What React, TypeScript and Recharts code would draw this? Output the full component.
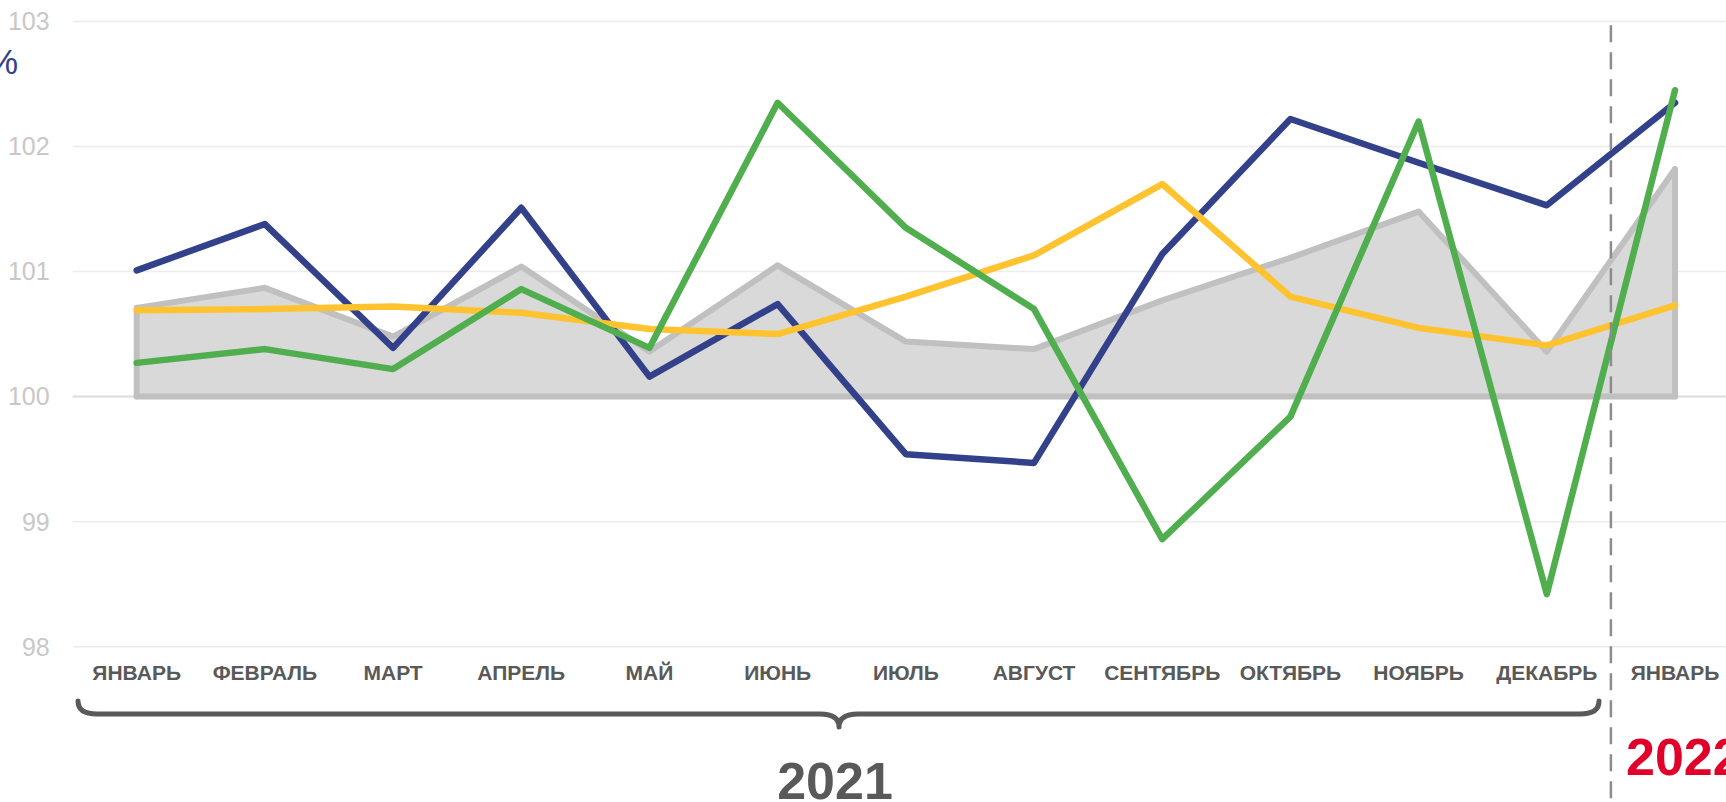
import React from 'react';
import {
  ComposedChart,
  Line,
  Area,
  XAxis,
  YAxis,
  CartesianGrid,
  ReferenceLine,
} from 'recharts';

const MONTH_KEYS = [
  '2021-01', '2021-02', '2021-03', '2021-04', '2021-05', '2021-06',
  '2021-07', '2021-08', '2021-09', '2021-10', '2021-11', '2021-12', '2022-01',
];
const MONTH_LABELS = [
  'ЯНВАРЬ', 'ФЕВРАЛЬ', 'МАРТ', 'АПРЕЛЬ', 'МАЙ', 'ИЮНЬ',
  'ИЮЛЬ', 'АВГУСТ', 'СЕНТЯБРЬ', 'ОКТЯБРЬ', 'НОЯБРЬ', 'ДЕКАБРЬ', 'ЯНВАРЬ',
];
const BLUE = [101.01, 101.38, 100.39, 101.51, 100.16, 100.74, 99.54, 99.47, 101.14, 102.22, 101.87, 101.53, 102.35];
const YELLOW = [100.69, 100.70, 100.72, 100.67, 100.54, 100.50, 100.80, 101.13, 101.70, 100.80, 100.55, 100.41, 100.73];
const GREEN = [100.27, 100.38, 100.22, 100.86, 100.39, 102.35, 101.35, 100.70, 98.86, 99.84, 102.20, 98.42, 102.45];
const GRAY = [100.71, 100.87, 100.48, 101.04, 100.36, 101.05, 100.44, 100.38, 100.77, 101.11, 101.48, 100.36, 101.82];
const Y_TICKS = [98, 99, 100, 101, 102, 103];
const BASE = 100;
const YEAR_DIVIDER = 11.5;
const YEAR_2021 = '2021';
const YEAR_2022 = '2022';
const UNIT = '%';

const data = MONTH_KEYS.map((key, i) => ({
  key,
  idx: i,
  blue: BLUE[i],
  yellow: YELLOW[i],
  green: GREEN[i],
  gray: GRAY[i],
}));

const labelFor = (key: string) => MONTH_LABELS[MONTH_KEYS.indexOf(key)] ?? key;

const FIRST = MONTH_KEYS[0];
const LAST = MONTH_KEYS[MONTH_KEYS.length - 1];

export default function App() {
  const outline = { stroke: '#c0c0c0', strokeWidth: 6, strokeLinecap: 'round' as const };
  return (
    <div
      style={{
        position: 'absolute',
        left: 0,
        top: 0,
        width: 1726,
        height: 802,
        overflow: 'hidden',
        background: '#ffffff',
        fontFamily: '"Liberation Sans", Arial, Helvetica, sans-serif',
      }}
    >
      <ComposedChart
        width={1800}
        height={802}
        data={data}
        margin={{ top: 21.5, right: 0, bottom: 0, left: 0 }}
      >
        <CartesianGrid vertical={false} stroke="#ececec" strokeWidth={1.5} zIndex={-100} />
        <XAxis
          xAxisId="cat"
          dataKey="key"
          type="category"
          scale="point"
          padding={{ left: 64, right: 125 }}
          height={155.3}
          interval={0}
          tickFormatter={labelFor}
          axisLine={false}
          tickLine={false}
          tickSize={0}
          tickMargin={18.4}
          tick={{ fontSize: 21, fontWeight: 700, fill: '#595959' }}
        />
        <XAxis
          xAxisId="num"
          dataKey="idx"
          type="number"
          domain={[0, MONTH_KEYS.length - 1]}
          padding={{ left: 64, right: 125 }}
          hide
        />
        <YAxis
          domain={[98, 103]}
          ticks={Y_TICKS}
          width={72.7}
          axisLine={false}
          tickLine={false}
          tickSize={0}
          tickMargin={23}
          tick={{ fontSize: 25, fill: '#c8c8c8' }}
        />
        <ReferenceLine y={BASE} xAxisId="cat" stroke="#dddddd" strokeWidth={2} zIndex={-50} />
        <Area
          xAxisId="cat"
          type="linear"
          dataKey="gray"
          baseValue={BASE}
          fill="#d9d9d9"
          fillOpacity={1}
          stroke="#c0c0c0"
          strokeWidth={6}
          strokeLinejoin="round"
          isAnimationActive={false}
          dot={false}
          activeDot={false}
        />
        <ReferenceLine
          xAxisId="cat"
          segment={[{ x: FIRST, y: BASE }, { x: LAST, y: BASE }]}
          {...outline}
          zIndex={150}
        />
        <ReferenceLine
          xAxisId="cat"
          segment={[{ x: FIRST, y: BASE }, { x: FIRST, y: GRAY[0] }]}
          {...outline}
          zIndex={150}
        />
        <ReferenceLine
          xAxisId="cat"
          segment={[{ x: LAST, y: BASE }, { x: LAST, y: GRAY[GRAY.length - 1] }]}
          {...outline}
          zIndex={150}
        />
        <Line
          xAxisId="cat"
          type="linear"
          dataKey="blue"
          stroke="#33418a"
          strokeWidth={6.5}
          strokeLinejoin="round"
          strokeLinecap="round"
          dot={false}
          activeDot={false}
          isAnimationActive={false}
        />
        <Line
          xAxisId="cat"
          type="linear"
          dataKey="yellow"
          stroke="#ffc330"
          strokeWidth={6.5}
          strokeLinejoin="round"
          strokeLinecap="round"
          dot={false}
          activeDot={false}
          isAnimationActive={false}
        />
        <Line
          xAxisId="cat"
          type="linear"
          dataKey="green"
          stroke="#50ae4f"
          strokeWidth={6.5}
          strokeLinejoin="round"
          strokeLinecap="round"
          dot={false}
          activeDot={false}
          isAnimationActive={false}
        />
        <ReferenceLine
          xAxisId="num"
          segment={[{ x: YEAR_DIVIDER, y: 102.97 }, { x: YEAR_DIVIDER, y: 96.7 }]}
          ifOverflow="visible"
          stroke="#8c8c8c"
          strokeWidth={2.5}
          strokeDasharray="17 10"
          zIndex={1500}
        />
      </ComposedChart>
      <svg
        width={1726}
        height={802}
        style={{ position: 'absolute', left: 0, top: 0, pointerEvents: 'none' }}
      >
        <text x={18} y={74} textAnchor="end" fontSize={35} fill="#33418a">
          {UNIT}
        </text>
        <path
          d="M78,701 Q78,714 97,714 L820,714 Q839,714 839,727 Q839,714 858,714 L1580,714 Q1599,714 1599,701"
          fill="none"
          stroke="#5a5a5a"
          strokeWidth={5}
          strokeLinecap="round"
          strokeLinejoin="round"
        />
        <text x={835} y={799} textAnchor="middle" fontSize={52} fontWeight={700} fill="#595959">
          {YEAR_2021}
        </text>
        <text x={1626} y={775} textAnchor="start" fontSize={52} fontWeight={700} fill="#e0002a">
          {YEAR_2022}
        </text>
      </svg>
    </div>
  );
}
